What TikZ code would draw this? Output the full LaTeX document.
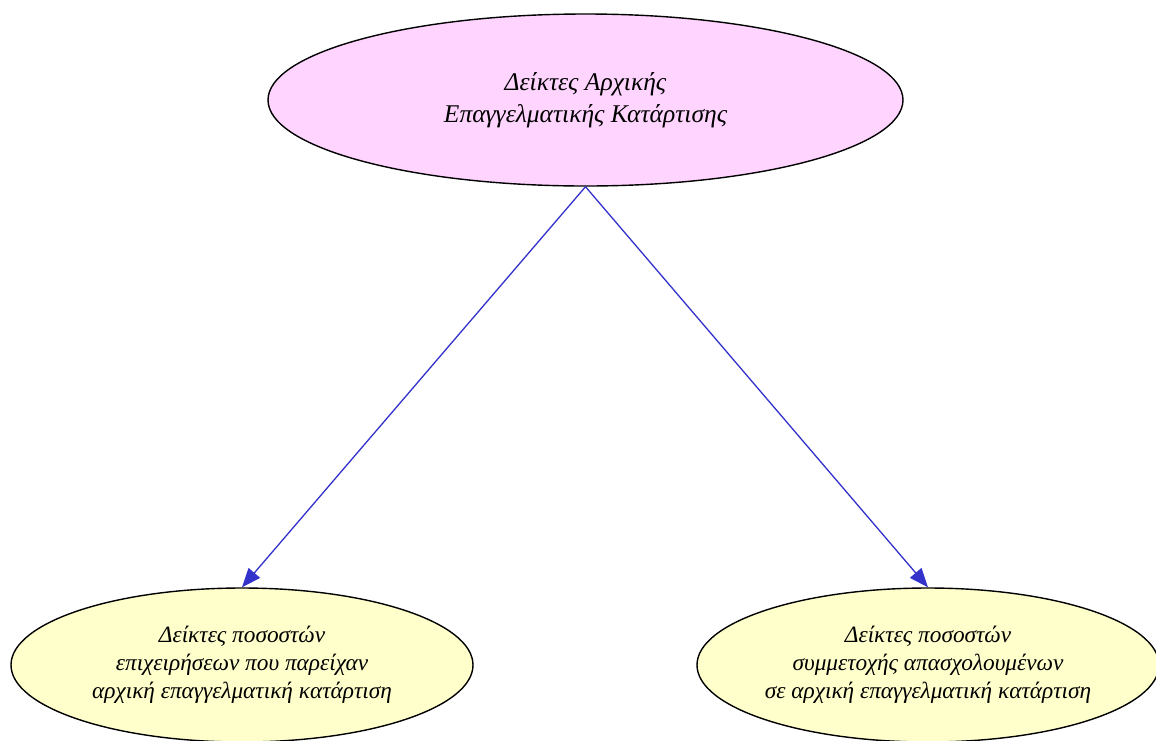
\documentclass[tikz,border=0pt]{standalone}
\usepackage{fontspec}
\setmainfont{Liberation Serif}
\usepackage{xcolor}
\usepackage{tikz}
\usetikzlibrary{shapes.geometric, arrows.meta}

\definecolor{rootfill}{HTML}{FFD5FF}
\definecolor{leaffill}{HTML}{FFFFCC}
\definecolor{edgeblue}{HTML}{3333CC}

\begin{document}
\begin{tikzpicture}[x=1pt, y=1pt, >={Triangle[length=19pt, width=15pt]},
    every node/.style={ellipse, draw, line width=1.4pt, align=center, inner xsep=-20pt},
    rootnode/.style={fill=rootfill, minimum width=635pt, minimum height=172pt, font=\fontsize{25.5}{32}\selectfont\itshape},
    leafnode/.style={fill=leaffill, minimum width=462pt, minimum height=154pt, font=\fontsize{23.3}{28}\selectfont\itshape},
    link/.style={->, draw=edgeblue, fill=edgeblue, line width=1.3pt}]
    \useasboundingbox (0,0) rectangle (1156,-740);

    \node[rootnode] (top)   at (585.5,-100) {Δείκτες Αρχικής\\Επαγγελματικής Κατάρτισης};
    \node[leafnode] (left)  at (242,-665)   {Δείκτες ποσοστών\\επιχειρήσεων που παρείχαν\\αρχική επαγγελματική κατάρτιση};
    \node[leafnode] (right) at (928,-665)   {Δείκτες ποσοστών\\συμμετοχής απασχολουμένων\\σε αρχική επαγγελματική κατάρτιση};

    \draw[link] (top.south) -- (left.north);
    \draw[link] (top.south) -- (right.north);
\end{tikzpicture}
\end{document}
